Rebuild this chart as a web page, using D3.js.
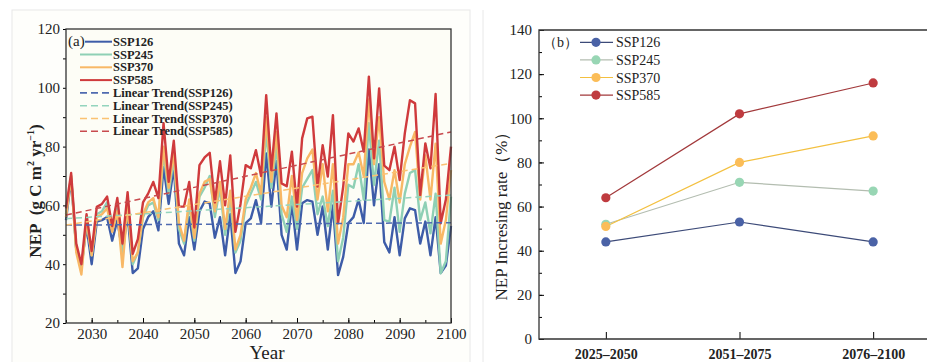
<!DOCTYPE html>
<html>
<head>
<meta charset="utf-8">
<script src="https://cdn.jsdelivr.net/npm/d3@7"></script>
<style>
  body { margin: 0; background: #fff; }
  svg { display: block; }
  text { font-family: "Liberation Serif", "Times New Roman", serif; fill: #222; }
</style>
</head>
<body>
<svg id="chart" width="927" height="362"></svg>
<script>
// --- panel (a): annual NEP, 2025-2100
const years = d3.range(2025, 2101)
const ssp126 = [55, 69, 45, 39, 53, 40, 54.5, 55, 56, 48,
	55, 44, 57, 37, 38.6, 52, 56, 58, 51.5, 73,
	60.5, 73, 47, 43, 56, 45, 58, 61.3, 60.7, 49,
	56, 43, 57, 37, 41, 54, 55.6, 61.8, 54, 77.7,
	59.6, 75, 50, 45, 60.7, 45, 60.7, 61.8, 61.3, 50,
	59.6, 45, 60, 36.3, 42.5, 54, 56, 62, 54, 79,
	60, 74, 47.5, 44, 56, 43, 55.6, 59, 58.4, 47,
	54.5, 43, 56, 37, 39.5, 53]
const ssp245 = [57, 70, 45, 38, 55, 43, 57, 58, 61, 52,
	59, 42, 60, 40, 44, 56, 60, 61, 55, 78,
	64, 76, 52, 47, 60, 48, 63, 66, 70, 56,
	66, 50, 62, 44, 48, 60, 64, 68, 62, 85,
	66, 80, 57, 51, 63, 52, 66, 69, 72, 57,
	63, 53, 65, 41, 49, 67, 66, 74, 62, 88,
	67, 82, 55, 54.5, 66, 51, 64, 71, 72, 55,
	61, 50.5, 64, 36.9, 41, 63]
const ssp370 = [56, 70, 44, 36.5, 55, 43, 56, 57, 59, 51,
	58, 39, 60, 41, 44, 57, 61, 62.5, 56, 80,
	66, 78, 54, 48, 62, 49, 64, 68, 69, 58,
	68, 52, 65, 45, 50, 62, 66, 71, 64, 90,
	68, 85, 60, 56, 70, 55, 71, 76, 79, 62,
	74, 58, 74, 47, 56, 74, 74, 78, 70, 96,
	74, 90, 68, 62, 72, 61, 74, 80, 85, 62,
	77, 62, 81, 47, 55, 72]
const ssp585 = [59, 71, 47, 40, 57, 44.5, 59.5, 60.5, 63, 53,
	62.5, 47, 64.5, 43.5, 48.5, 61, 64, 68, 62.5, 88,
	68, 82, 59.6, 59.6, 68, 52.5, 73.7, 76.3, 77.9, 61,
	75, 60, 77, 51, 60.5, 73.7, 72.6, 78.8, 70, 97.5,
	72, 91.3, 67.5, 66.5, 78.3, 59.6, 82.8, 89.6, 90.2, 66.4,
	80.5, 69.8, 90.7, 53.9, 66.4, 84.5, 81.7, 86.2, 78.3, 103.8,
	76, 99.8, 73.5, 72, 80, 68.6, 84.5, 95.8, 94.7, 63.5,
	81.1, 72.6, 97.9, 53.9, 62, 80]
// linear trend end points (2025, 2100)
const trendStart = [53.3, 55.5, 53.3, 56.7]
const trendEnd = [54.1, 63.5, 74.3, 85]
const seriesNames = ["SSP126", "SSP245", "SSP370", "SSP585"]
const yTicksA = [20, 40, 60, 80, 100, 120]
const xTicksA = [2030, 2040, 2050, 2060, 2070, 2080, 2090, 2100]

// --- panel (b): increasing rate per period
const periods = ["2025\u20132050", "2051\u20132075", "2076\u20132100"]
const rate126 = [44, 53, 44]
const rate245 = [52, 71, 67]
const rate370 = [51, 80, 92]
const rate585 = [64, 102, 116]
const yTicksB = [0, 20, 40, 60, 80, 100, 120, 140]

const lineColors = ["#3d5ca8", "#8fd0b5", "#f8b866", "#cf3a3c"]
const trendColors = ["#4f6ab0", "#93d4bd", "#fbc272", "#c84a4e"]
const bLineColors = ["#3c4a78", "#b3bdb0", "#f3c040", "#a2393b"]
const bDotColors = ["#4a62a6", "#98d6b4", "#fbbd58", "#bf3b3f"]

const svg = d3.select("#chart")

// panel frames
svg.append("rect").attr("x", 12).attr("y", 10).attr("width", 458).attr("height", 360)
	.attr("fill", "#fefefb").attr("stroke", "#e8e8e8")
svg.append("line").attr("x1", 483).attr("x2", 483).attr("y1", 10).attr("y2", 362)
	.attr("stroke", "#e8e8e8")

// ===== panel (a)
const A = { left: 66, right: 451, top: 29, bottom: 323 }
const xA = d3.scaleLinear().domain([2025, 2100]).range([A.left, A.right])
const yA = d3.scaleLinear().domain([20, 120]).range([A.bottom, A.top])
const gA = svg.append("g")

gA.append("rect").attr("x", A.left).attr("y", A.top)
	.attr("width", A.right - A.left).attr("height", A.bottom - A.top)
	.attr("fill", "#fdfdf6")

const series = [ssp126, ssp245, ssp370, ssp585]
const line = d3.line().x((d, i) => xA(years[i])).y(d => yA(d))
series.forEach((s, k) => {
	gA.append("path")
		.datum(s)
		.attr("fill", "none")
		.attr("stroke", lineColors[k])
		.attr("stroke-width", 2.4)
		.attr("stroke-linejoin", "round")
		.attr("d", line)
})
series.forEach((s, k) => {
	gA.append("line")
		.attr("x1", xA(2025)).attr("y1", yA(trendStart[k]))
		.attr("x2", xA(2100)).attr("y2", yA(trendEnd[k]))
		.attr("stroke", trendColors[k])
		.attr("stroke-width", 1.5)
		.attr("stroke-dasharray", "6,4")
})

// axes (a)
gA.append("g")
	.attr("transform", `translate(0,${A.bottom})`)
	.call(d3.axisBottom(xA).tickValues(d3.range(2025, 2101, 5)).tickSize(-3).tickFormat(""))
gA.append("g")
	.attr("transform", `translate(0,${A.bottom})`)
	.call(d3.axisBottom(xA).tickValues(xTicksA).tickSize(-5).tickPadding(5).tickFormat(d3.format("d")))
gA.append("g")
	.attr("transform", `translate(${A.left},0)`)
	.call(d3.axisLeft(yA).tickValues(d3.range(20, 121, 10)).tickSize(3).tickFormat(""))
gA.append("g")
	.attr("transform", `translate(${A.left},0)`)
	.call(d3.axisLeft(yA).tickValues(yTicksA).tickSize(0).tickPadding(6))
gA.selectAll(".tick text").attr("font-size", 15).attr("fill", "#222")
	.style("font-family", "Liberation Serif")
gA.selectAll(".domain").remove()
gA.append("rect").attr("x", A.left).attr("y", A.top)
	.attr("width", A.right - A.left).attr("height", A.bottom - A.top)
	.attr("fill", "none").attr("stroke", "#333").attr("stroke-width", 1.3)

gA.append("text").attr("x", 267).attr("y", 359)
	.attr("text-anchor", "middle").attr("font-size", 19).text("Year")

const yLabA = gA.append("text")
	.attr("transform", "translate(41,191) rotate(-90)")
	.attr("text-anchor", "middle").attr("font-size", 17).attr("font-weight", "bold")
yLabA.append("tspan").text("NEP\u00a0\u00a0(g C m")
yLabA.append("tspan").attr("font-size", 10).attr("dy", -7).text("2")
yLabA.append("tspan").attr("dy", 7).text(" yr")
yLabA.append("tspan").attr("font-size", 10).attr("dy", -7).text("\u22121")
yLabA.append("tspan").attr("dy", 7).text(")")

// legend (a)
gA.append("text").attr("x", 68).attr("y", 46).attr("font-size", 15).text("(a)")
const legA = gA.append("g")
const legRows = seriesNames.map((n, k) => ({ name: n, k, dash: false }))
	.concat(seriesNames.map((n, k) => ({ name: `Linear Trend(${n})`, k, dash: true })))
legRows.forEach((r, i) => {
	const y = 41.7 + i * 12.8
	legA.append("line")
		.attr("x1", i === 0 ? 85 : 80).attr("x2", 112).attr("y1", y).attr("y2", y)
		.attr("stroke", r.dash ? trendColors[r.k] : lineColors[r.k])
		.attr("stroke-width", r.dash ? 1.6 : 2)
		.attr("stroke-dasharray", r.dash ? "7,4" : null)
	legA.append("text").attr("x", 113).attr("y", y + 4)
		.attr("font-size", 12.5).attr("font-weight", "bold").text(r.name)
})

// ===== panel (b)
const B = { left: 539, right: 940, top: 30, bottom: 339 }
const xB = d3.scalePoint().domain(periods).range([B.left, B.right]).padding(0.5)
const yB = d3.scaleLinear().domain([0, 140]).range([B.bottom, B.top])
const gB = svg.append("g")

gB.append("g")
	.attr("transform", `translate(0,${B.bottom})`)
	.call(d3.axisBottom(xB).tickSize(-7).tickPadding(10))
	.selectAll(".tick text").attr("font-weight", "bold").attr("font-size", 14)
gB.append("g")
	.attr("transform", `translate(${B.left},0)`)
	.call(d3.axisLeft(yB).tickValues(d3.range(0, 141, 10)).tickSize(-3).tickFormat(""))
gB.append("g")
	.attr("transform", `translate(${B.left},0)`)
	.call(d3.axisLeft(yB).tickValues(yTicksB).tickSize(-5).tickPadding(7))
	.selectAll(".tick text").attr("font-size", 15)
gB.selectAll(".tick text").attr("fill", "#222").style("font-family", "Liberation Serif")
gB.selectAll(".domain").remove()
gB.append("path")
	.attr("d", `M${B.right},${B.top}H${B.left}V${B.bottom}H${B.right}`)
	.attr("fill", "none").attr("stroke", "#333").attr("stroke-width", 1.3)

const rates = [rate126, rate245, rate370, rate585]
const lineB = d3.line().x((d, i) => xB(periods[i])).y(d => yB(d))
rates.forEach((r, k) => {
	gB.append("path").datum(r)
		.attr("fill", "none").attr("stroke", bLineColors[k]).attr("stroke-width", 1.2)
		.attr("d", lineB)
})
rates.forEach((r, k) => {
	gB.selectAll(null).data(r).enter().append("circle")
		.attr("cx", (d, i) => xB(periods[i])).attr("cy", d => yB(d))
		.attr("r", 4.6).attr("fill", bDotColors[k])
})

gB.append("text")
	.attr("transform", "translate(507,212) rotate(-90)")
	.attr("text-anchor", "middle").attr("font-size", 17)
	.text("NEP Incresing rate\uff08%\uff09")

// legend (b)
gB.append("text").attr("x", 543).attr("y", 47).attr("font-size", 14).text("\uff08b\uff09")
seriesNames.forEach((n, k) => {
	const y = 42.3 + k * 17.6
	gB.append("line").attr("x1", 580).attr("x2", 613).attr("y1", y).attr("y2", y)
		.attr("stroke", bLineColors[k]).attr("stroke-width", 1.2)
	gB.append("circle").attr("cx", 596).attr("cy", y).attr("r", 4.6).attr("fill", bDotColors[k])
	gB.append("text").attr("x", 616).attr("y", y + 5).attr("font-size", 14).text(n)
})
</script>
</body>
</html>
